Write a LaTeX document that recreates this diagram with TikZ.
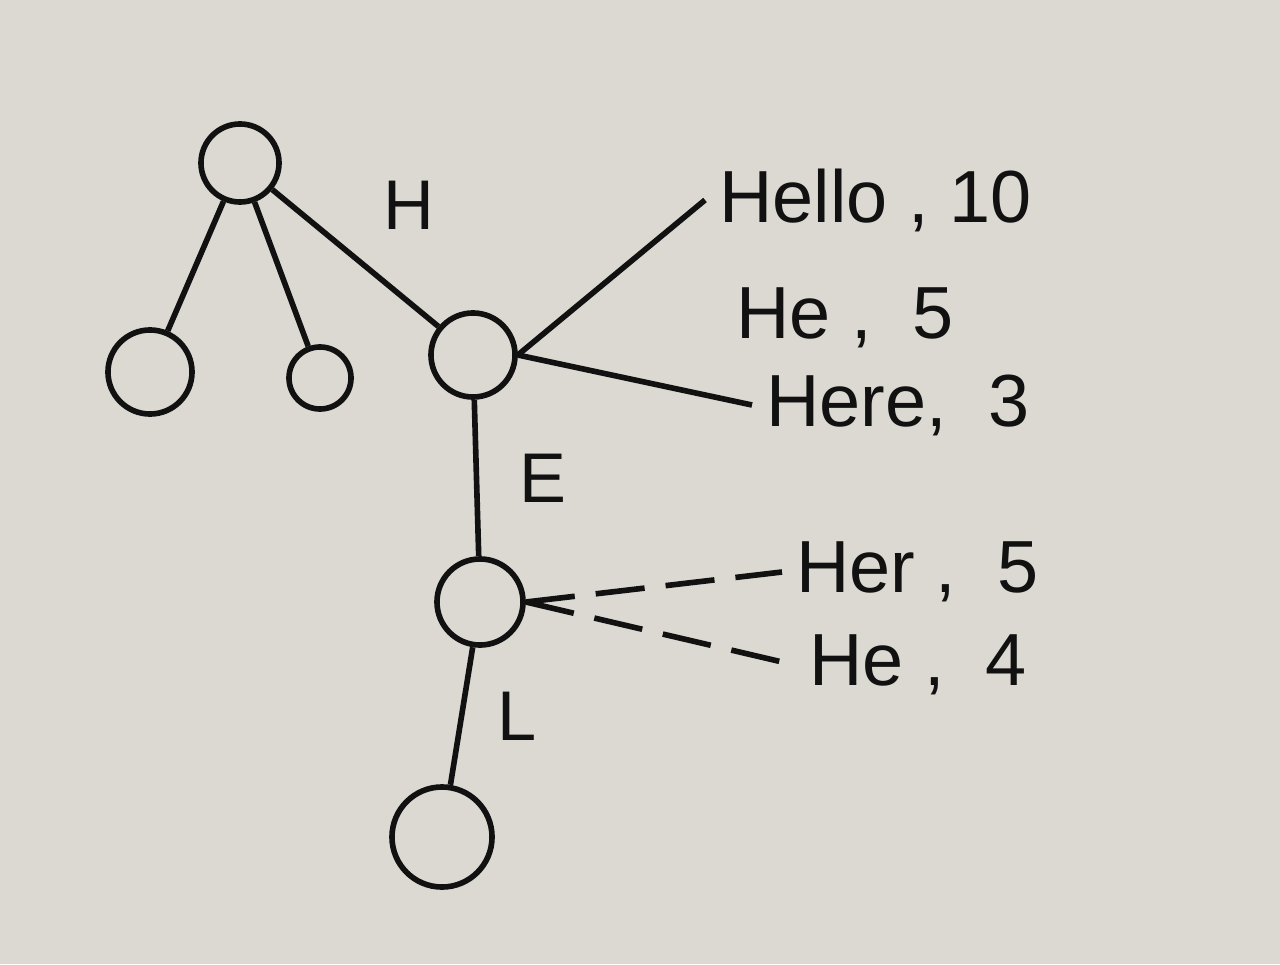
\documentclass[tikz,border=0pt]{standalone}
\usepackage{fontspec}
\setmainfont{Liberation Sans}
\usepackage{tikz}
\definecolor{paper}{HTML}{DCD9D2}
\definecolor{ink}{HTML}{111111}

\begin{document}
\begin{tikzpicture}[x=0.01cm, y=-0.01cm, line width=1.6pt, color=ink,
    knot/.style={draw, circle, inner sep=0pt},
    word/.style={anchor=west, font=\fontsize{21}{24}\selectfont},
    edgelabel/.style={font=\fontsize{20}{24}\selectfont}]
    % draw paper
    \fill[paper] (0, 0) rectangle (1280, 964);
    \useasboundingbox (0, 0) rectangle (1280, 964);

    % draw tree nodes
    \node[knot, minimum size=0.78cm] (root) at (240, 163) {};
    \node[knot, minimum size=0.84cm] (left) at (150, 372) {};
    \node[knot, minimum size=0.62cm] (mid) at (320, 378) {};
    \node[knot, minimum size=0.84cm] (h) at (473, 355) {};
    \node[knot, minimum size=0.86cm] (he) at (480, 602) {};
    \node[knot, minimum size=1.0cm] (hel) at (442, 837) {};

    % draw tree edges
    \draw (root) -- (left);
    \draw (root) -- (mid);
    \draw (root) -- node[edgelabel, above right=4pt] (labh) {H} (h);
    \draw (h) -- node[edgelabel, right=8pt] (labe) {E} (he);
    \draw (he) -- node[edgelabel, right=6pt] (labl) {L} (hel);

    % draw word lists
    \node[word] (hello) at (705, 200) {Hello , 10};
    \node[word] (he5) at (722, 318) {He ,\ \ 5};
    \node[word] (here) at (752, 405) {Here,\ \ 3};
    \node[word] (her) at (782, 572) {Her ,\ \ 5};
    \node[word] (he4) at (795, 665) {He ,\ \ 4};

    % draw solid links
    \draw (h.east) -- (hello.west);
    \draw (h.east) -- (here.west);

    % draw dashed links
    \draw[dash pattern=on 14pt off 6pt] (he.east) -- (her.west);
    \draw[dash pattern=on 14pt off 6pt] (he.east) -- (he4.west);

\end{tikzpicture}
\end{document}
